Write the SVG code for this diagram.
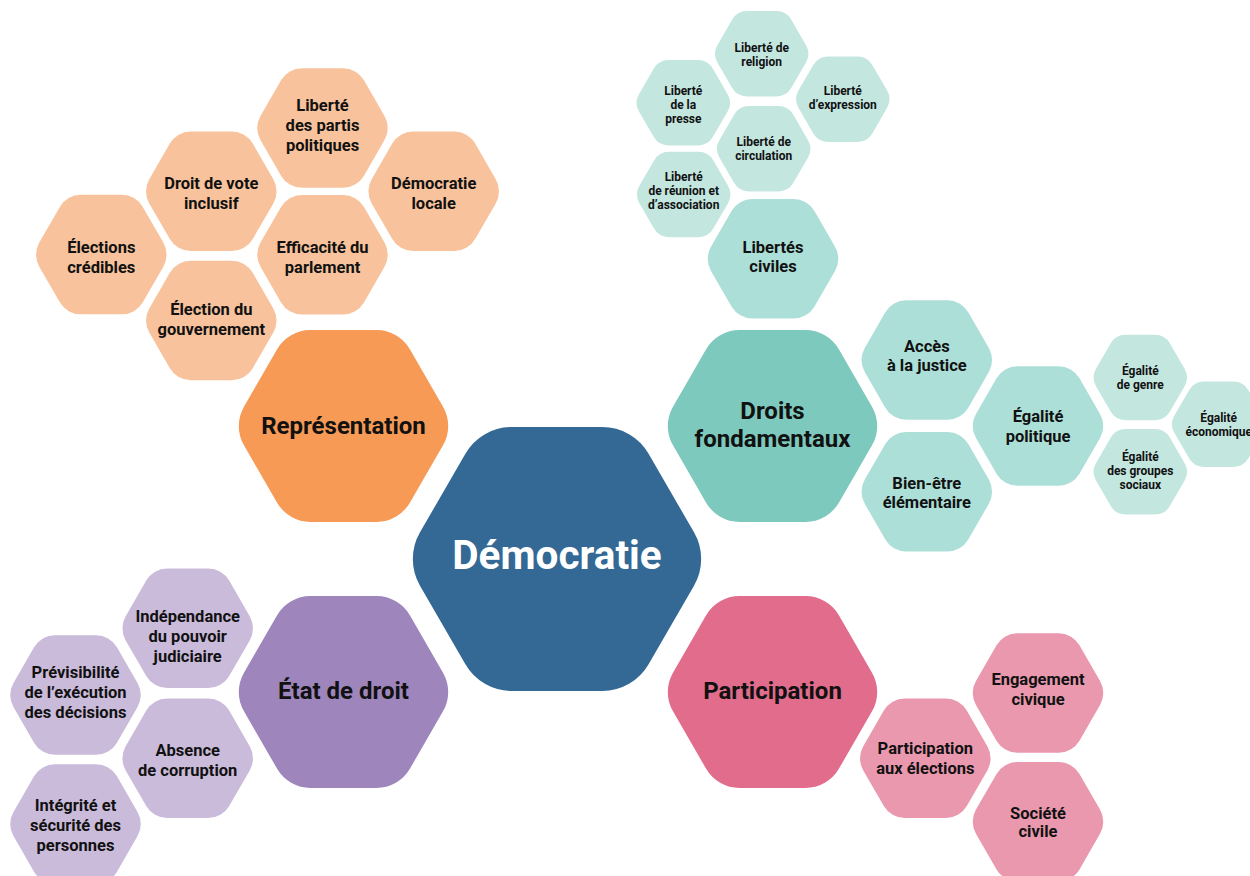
<svg xmlns="http://www.w3.org/2000/svg" xmlns:xlink="http://www.w3.org/1999/xlink" width="1250" height="876" viewBox="0 0 1250 876">
<style>
text{font-family:Roboto,"Liberation Sans",Arial,sans-serif;font-weight:700;fill:#111111;text-anchor:middle}
.xl{font-size:40.5px;fill:#ffffff}
.l{font-size:24px}
.m{font-size:16.5px}
.s{font-size:12px}
.c0{fill:#336994;stroke:#336994}
.o1{fill:#f79a56;stroke:#f79a56}
.o2{fill:#f8c39c;stroke:#f8c39c}
.t1{fill:#7ec9bd;stroke:#7ec9bd}
.t2{fill:#acdfd7;stroke:#acdfd7}
.t3{fill:#c3e6df;stroke:#c3e6df}
.p1{fill:#9e86bd;stroke:#9e86bd}
.p2{fill:#cbbbdb;stroke:#cbbbdb}
.k1{fill:#e26c8c;stroke:#e26c8c}
.k2{fill:#ea98ae;stroke:#ea98ae}
</style>
<defs>
<polygon id="hx" points="59.59,0 29.79,51.61 -29.79,51.61 -59.59,0 -29.79,-51.61 29.79,-51.61" stroke-width="70" stroke-linejoin="round"/>
</defs>
<rect width="1250" height="876" fill="#ffffff"/>
<g id="connectors"/>

<g id="n-democratie"><use href="#hx" class="c0" transform="translate(557,559) scale(1.524)"/><text class="xl" x="557" y="569">Démocratie</text></g>

<g id="n-representation"><use href="#hx" class="o1" transform="translate(343.5,426) scale(1.107)"/><text class="l" x="343.5" y="433.5">Représentation</text></g>
<g id="n-droits"><use href="#hx" class="t1" transform="translate(772.5,426) scale(1.107)"/><text class="l"><tspan x="772.5" y="418.5">Droits</tspan><tspan x="772.5" y="447">fondamentaux</tspan></text></g>
<g id="n-etat"><use href="#hx" class="p1" transform="translate(343.5,692) scale(1.107)"/><text class="l" x="343.5" y="698.5">État de droit</text></g>
<g id="n-participation"><use href="#hx" class="k1" transform="translate(772.5,692) scale(1.107)"/><text class="l" x="772.5" y="698.5">Participation</text></g>

<g id="n-elections-credibles"><use href="#hx" class="o2" transform="translate(101.3,254.6) scale(0.69)"/><text class="m"><tspan x="101.3" y="253">Élections</tspan><tspan x="101.3" y="273">crédibles</tspan></text></g>
<g id="n-droit-vote"><use href="#hx" class="o2" transform="translate(211.3,191.3) scale(0.69)"/><text class="m"><tspan x="211.3" y="189">Droit de vote</tspan><tspan x="211.3" y="209">inclusif</tspan></text></g>
<g id="n-partis"><use href="#hx" class="o2" transform="translate(322.5,128) scale(0.69)"/><text class="m"><tspan x="322.5" y="111">Liberté</tspan><tspan x="322.5" y="131">des partis</tspan><tspan x="322.5" y="151">politiques</tspan></text></g>
<g id="n-democratie-locale"><use href="#hx" class="o2" transform="translate(433.7,191.3) scale(0.69)"/><text class="m"><tspan x="433.7" y="189">Démocratie</tspan><tspan x="433.7" y="209">locale</tspan></text></g>
<g id="n-parlement"><use href="#hx" class="o2" transform="translate(322.5,254.7) scale(0.69)"/><text class="m"><tspan x="322.5" y="253">Efficacité du</tspan><tspan x="322.5" y="273">parlement</tspan></text></g>
<g id="n-gouvernement"><use href="#hx" class="o2" transform="translate(211.3,320.5) scale(0.69)"/><text class="m"><tspan x="211.3" y="315">Élection du</tspan><tspan x="211.3" y="335">gouvernement</tspan></text></g>

<g id="n-libertes-civiles"><use href="#hx" class="t2" transform="translate(773,258.8) scale(0.69)"/><text class="m"><tspan x="773" y="252.5">Libertés</tspan><tspan x="773" y="272">civiles</tspan></text></g>
<g id="n-justice"><use href="#hx" class="t2" transform="translate(926.8,360) scale(0.69)"/><text class="m"><tspan x="926.8" y="351.5">Accès</tspan><tspan x="926.8" y="371">à la justice</tspan></text></g>
<g id="n-bien-etre"><use href="#hx" class="t2" transform="translate(926.8,491.7) scale(0.69)"/><text class="m"><tspan x="926.8" y="488.5">Bien-être</tspan><tspan x="926.8" y="508">élémentaire</tspan></text></g>
<g id="n-egalite-politique"><use href="#hx" class="t2" transform="translate(1038,426) scale(0.69)"/><text class="m"><tspan x="1038" y="422">Égalité</tspan><tspan x="1038" y="442">politique</tspan></text></g>

<g id="n-religion"><use href="#hx" class="t3" transform="translate(761.7,53.8) scale(0.493)"/><text class="s"><tspan x="761.7" y="52">Liberté de</tspan><tspan x="761.7" y="66">religion</tspan></text></g>
<g id="n-presse"><use href="#hx" class="t3" transform="translate(683.3,102.8) scale(0.493)"/><text class="s"><tspan x="683.3" y="94.5">Liberté</tspan><tspan x="683.3" y="108.5">de la</tspan><tspan x="683.3" y="122.5">presse</tspan></text></g>
<g id="n-expression"><use href="#hx" class="t3" transform="translate(842.8,99.2) scale(0.493)"/><text class="s"><tspan x="842.8" y="94.5">Liberté</tspan><tspan x="842.8" y="108.5">d’expression</tspan></text></g>
<g id="n-circulation"><use href="#hx" class="t3" transform="translate(763.7,148.8) scale(0.493)"/><text class="s"><tspan x="763.7" y="145.5">Liberté de</tspan><tspan x="763.7" y="159.5">circulation</tspan></text></g>
<g id="n-reunion"><use href="#hx" class="t3" transform="translate(683.7,194.5) scale(0.493)"/><text class="s"><tspan x="683.7" y="181">Liberté</tspan><tspan x="683.7" y="195">de réunion et</tspan><tspan x="683.7" y="209">d’association</tspan></text></g>
<g id="n-genre"><use href="#hx" class="t3" transform="translate(1140.3,377.5) scale(0.493)"/><text class="s"><tspan x="1140.3" y="375">Égalité</tspan><tspan x="1140.3" y="389">de genre</tspan></text></g>
<g id="n-economique"><use href="#hx" class="t3" transform="translate(1218.7,424.2) scale(0.493)"/><text class="s"><tspan x="1218.7" y="421.5">Égalité</tspan><tspan x="1218.7" y="435.5">économique</tspan></text></g>
<g id="n-groupes"><use href="#hx" class="t3" transform="translate(1140.3,471.8) scale(0.493)"/><text class="s"><tspan x="1140.3" y="461">Égalité</tspan><tspan x="1140.3" y="475">des groupes</tspan><tspan x="1140.3" y="489">sociaux</tspan></text></g>

<g id="n-independance"><use href="#hx" class="p2" transform="translate(187.7,628.3) scale(0.69)"/><text class="m"><tspan x="187.7" y="622">Indépendance</tspan><tspan x="187.7" y="642">du pouvoir</tspan><tspan x="187.7" y="662">judiciaire</tspan></text></g>
<g id="n-previsibilite"><use href="#hx" class="p2" transform="translate(75.5,695) scale(0.69)"/><text class="m"><tspan x="75.5" y="678">Prévisibilité</tspan><tspan x="75.5" y="698">de l’exécution</tspan><tspan x="75.5" y="718">des décisions</tspan></text></g>
<g id="n-corruption"><use href="#hx" class="p2" transform="translate(187.7,758.3) scale(0.69)"/><text class="m"><tspan x="187.7" y="755.5">Absence</tspan><tspan x="187.7" y="775.5">de corruption</tspan></text></g>
<g id="n-integrite"><use href="#hx" class="p2" transform="translate(75.5,824) scale(0.69)"/><text class="m"><tspan x="75.5" y="811">Intégrité et</tspan><tspan x="75.5" y="831">sécurité des</tspan><tspan x="75.5" y="851">personnes</tspan></text></g>

<g id="n-engagement"><use href="#hx" class="k2" transform="translate(1038,693) scale(0.69)"/><text class="m"><tspan x="1038" y="685">Engagement</tspan><tspan x="1038" y="705">civique</tspan></text></g>
<g id="n-participation-elections"><use href="#hx" class="k2" transform="translate(925.3,758.3) scale(0.69)"/><text class="m"><tspan x="925.3" y="754">Participation</tspan><tspan x="925.3" y="774">aux élections</tspan></text></g>
<g id="n-societe"><use href="#hx" class="k2" transform="translate(1038,821.7) scale(0.69)"/><text class="m"><tspan x="1038" y="818.5">Société</tspan><tspan x="1038" y="837">civile</tspan></text></g>
</svg>
